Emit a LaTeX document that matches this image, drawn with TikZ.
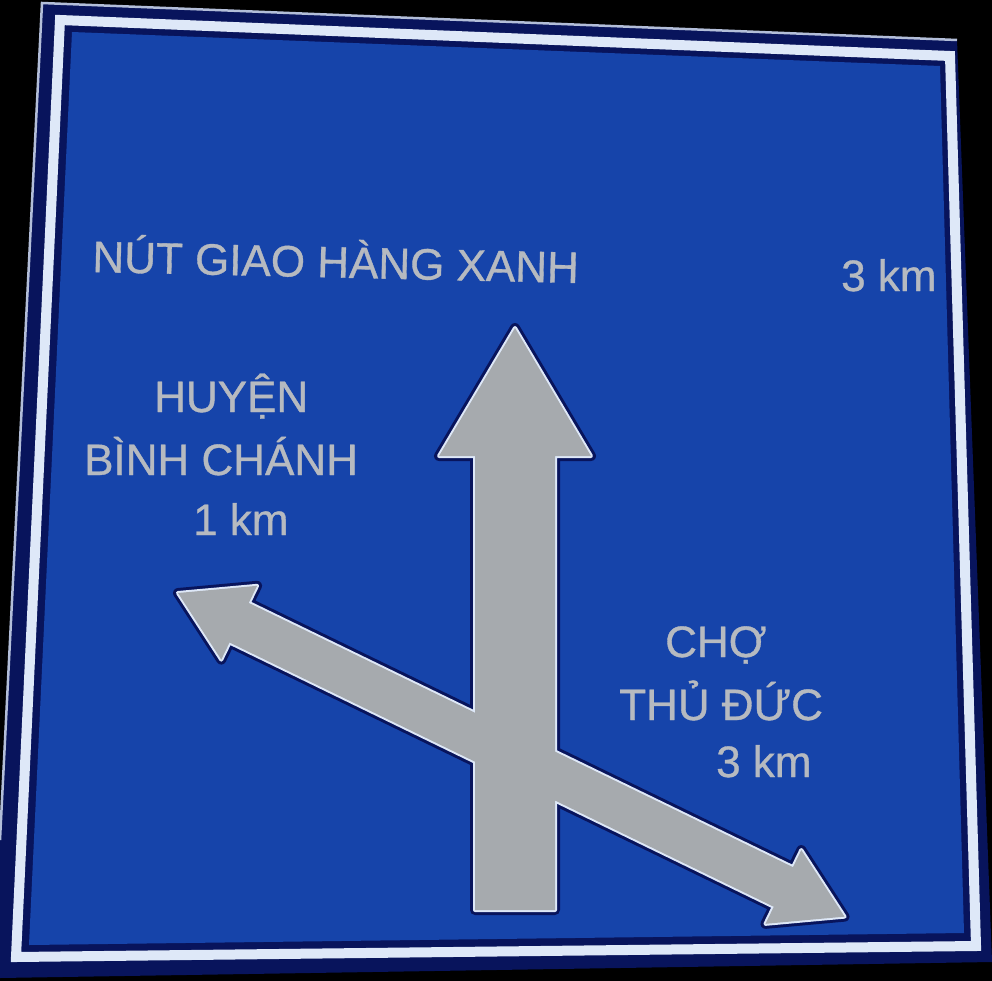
\documentclass[tikz,border=0pt]{standalone}
\usepackage{fontspec}
\newfontfamily\signfont[FakeBold=0.8]{Liberation Sans}
\definecolor{signblue}{RGB}{22,68,170}
\definecolor{signnavy}{RGB}{8,20,92}
\definecolor{signwhite}{RGB}{222,232,248}
\definecolor{arrowgray}{RGB}{166,170,174}
\definecolor{textgray}{RGB}{182,186,192}
\newcommand{\arrowUp}[1]
{   \path[#1] (515,328) -- (591,456) -- (555,456) -- (555,910) -- (475,910) -- (475,456) -- (439,456) -- cycle;
}
\newcommand{\arrowDiag}[1]
{   \path[#1,shift={(178,593)},rotate=-25.9] (0,0) -- (68,-41) -- (68,-22) -- (673,-22) -- (673,-41) -- (741,0) -- (673,41) -- (673,22) -- (68,22) -- (68,41) -- cycle;
}
\tikzset{
  arrowhalo/.style={draw=signnavy,line width=10pt,line join=round},
  arrowrim/.style={draw=signwhite,line width=4pt,line join=round},
  arrowbody/.style={fill=arrowgray},
  signtext/.style={text=textgray,font=\signfont\fontsize{44}{50}\selectfont,anchor=base west,inner sep=0pt}
}
\begin{document}
\begin{tikzpicture}[x=1pt,y=-1pt]
 \useasboundingbox (0,0) rectangle (992,981);
 \fill[black] (0,0) rectangle (992,981);
 \fill[signnavy] (0,840) -- (42,3) -- (957,40) -- (992,962) -- (0,978) -- cycle;
   \draw[signwhite!80!signnavy,line width=2.5pt] (0,840) -- (42,3) -- (957,40);
   \draw[signwhite,line width=10pt] (60,20) -- (950,56) -- (976,946) -- (16,957) -- cycle;
 \fill[signblue] (72,32) -- (940,66) -- (964,933) -- (29,945) -- cycle;

 \arrowUp{arrowhalo} \arrowDiag{arrowhalo}
 \arrowUp{arrowrim} \arrowDiag{arrowrim}
 \arrowUp{arrowbody} \arrowDiag{arrowbody}

   \node[signtext,rotate=-1.3] (nutgiao) at (92,272) {NÚT GIAO HÀNG XANH};
   \node[signtext] (kmtop) at (841,291) {3 km};
   \node[signtext] (huyen) at (154,412) {HUYỆN};
   \node[signtext] (binhchanh) at (84,475) {BÌNH CHÁNH};
   \node[signtext] (kmleft) at (193,535) {1 km};
   \node[signtext] (cho) at (665,657) {CHỢ};
   \node[signtext] (thuduc) at (619,720) {THỦ ĐỨC};
   \node[signtext] (kmright) at (716,777) {3 km};

 \end{tikzpicture}
\end{document}
